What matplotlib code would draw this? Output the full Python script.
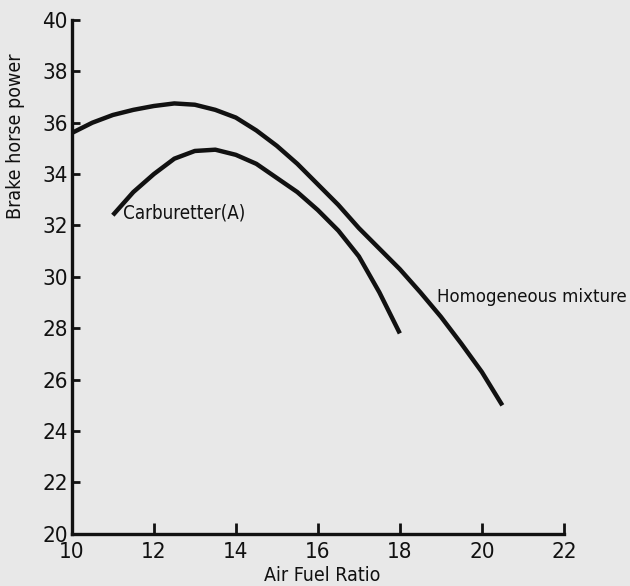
import matplotlib
matplotlib.use("Agg")
import matplotlib.pyplot as plt
from matplotlib import font_manager

# values
afr_homog = [10, 10.5, 11, 11.5, 12, 12.5, 13, 13.5, 14, 14.5, 15, 15.5, 16,
             16.5, 17, 17.5, 18, 18.5, 19, 19.5, 20, 20.5]
bhp_homog = [35.6, 36.0, 36.3, 36.5, 36.65, 36.75, 36.7, 36.5, 36.2, 35.7, 35.1, 34.4, 33.6,
             32.8, 31.9, 31.1, 30.3, 29.4, 28.45, 27.4, 26.3, 25.0]

afr_carb = [11, 11.5, 12, 12.5, 13, 13.5, 14, 14.5, 15, 15.5, 16, 16.5, 17, 17.5, 18]
bhp_carb = [32.4, 33.3, 34.0, 34.6, 34.9, 34.95, 34.75, 34.4, 33.85, 33.3, 32.6, 31.8, 30.8, 29.4, 27.8]

x_ticks = [10, 12, 14, 16, 18, 20, 22]
y_ticks = [20, 22, 24, 26, 28, 30, 32, 34, 36, 38, 40]

# scanned figure uses a narrow grotesque; use a condensed face if one exists
cond = [f for f in font_manager.fontManager.ttflist
        if f.name == "DejaVu Sans" and "condensed" in str(f.stretch) and f.weight in (400, "normal")]
if cond:
    plt.rcParams["font.stretch"] = cond[0].stretch
    k = 1.0
else:
    k = 0.88
plt.rcParams["font.family"] = ["DejaVu Sans"]

INK = "#111111"
BG = "#e8e8e8"
fig = plt.figure(figsize=(6.3, 5.86), dpi=100, facecolor=BG)
ax = fig.add_axes([0.114, 0.089, 0.781, 0.877], facecolor=BG)

ax.plot(afr_homog, bhp_homog, color=INK, linewidth=3.2, solid_capstyle="butt")
ax.plot(afr_carb, bhp_carb, color=INK, linewidth=3.2, solid_capstyle="butt")

ax.text(11.25, 32.5, "Carburetter(A)", fontsize=13.5 * k, va="center", ha="left", color=INK)
ax.text(18.9, 29.2, "Homogeneous mixture", fontsize=13.3 * k, va="center", ha="left", color=INK)

ax.set_xlim(10, 22)
ax.set_ylim(20, 40)
ax.set_xticks(x_ticks)
ax.set_yticks(y_ticks)
ax.tick_params(direction="in", length=6, width=2, labelsize=16 * k, colors=INK, pad=3)
ax.tick_params(axis="x", length=8, pad=6)
for s in ["top", "right"]:
    ax.spines[s].set_visible(False)
for s in ["left", "bottom"]:
    ax.spines[s].set_linewidth(2.4)
    ax.spines[s].set_color(INK)

ax.set_xlabel("Air Fuel Ratio", fontsize=14 * k, color=INK)
ax.set_ylabel("Brake horse power", fontsize=14 * k, color=INK)
ax.xaxis.set_label_coords(0.508, -0.062)
ax.yaxis.set_label_coords(-0.095, 0.774)

fig.savefig("out.png", dpi=100, facecolor=BG)
plt.close(fig)
